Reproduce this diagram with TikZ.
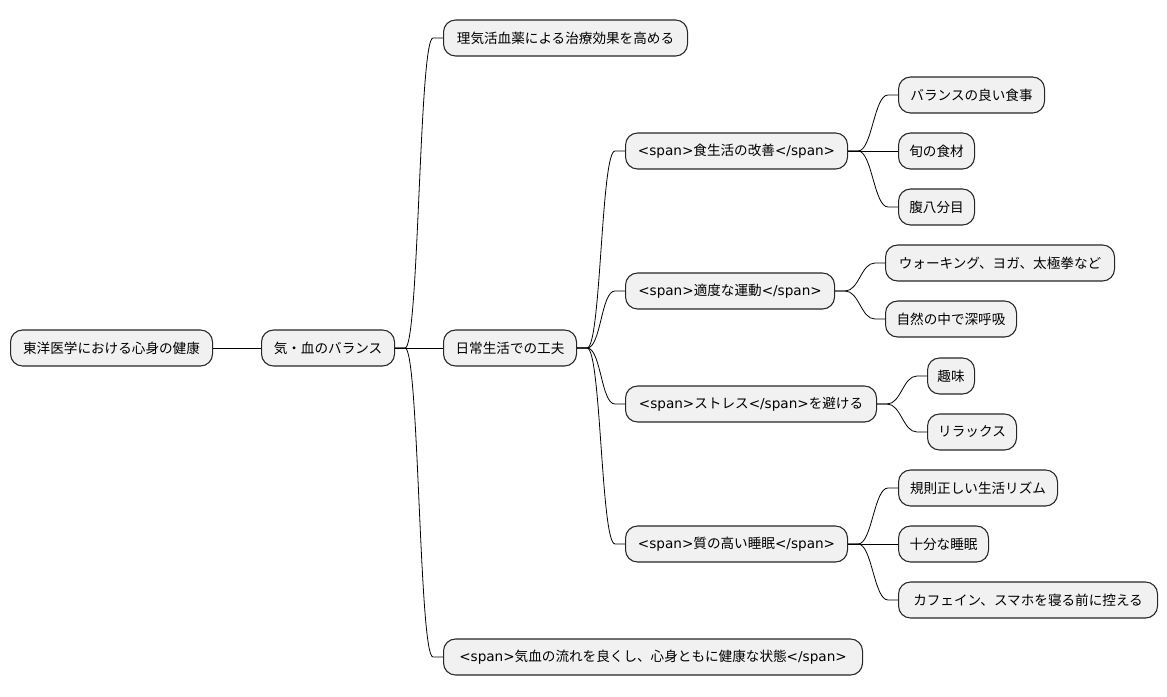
\documentclass[tikz,border=0pt]{standalone}
\usepackage{fontspec}
\setmainfont{Noto Sans CJK JP}
\newfontfamily\lat{DejaVu Sans}
\usetikzlibrary{calc}
\definecolor{boxfill}{HTML}{F1F1F1}
\tikzset{
  mmbox/.style={draw=black!85, line width=0.8pt, fill=boxfill, rounded corners=9pt,
    minimum height=27pt, minimum width=#1*0.75pt, inner xsep=6pt, anchor=west,
    font=\fontsize{10.2pt}{12pt}\selectfont},
  link/.style={draw=black, line width=0.6pt}
}
\newcommand\mmlink[2]{\draw[link] (#1.east) -- ++(10,0) .. controls +(14,0) and +(-14,0) .. ($(#2.west)+(-10,0)$) -- (#2.west);}
\newcommand\spo{{\lat <span>}}
\newcommand\spc{{\lat </span>}}
\begin{document}
\begin{tikzpicture}[x=0.75pt,y=-0.75pt]
\useasboundingbox (0,0) rectangle (1167,696);
\node[mmbox=202] (root) at (10,348) {東洋医学における心身の健康};
\node[mmbox=133] (qi) at (261,348) {気・血のバランス};
\node[mmbox=244] (riki) at (443,38) {理気活血薬による治療効果を高める};
\node[mmbox=133] (daily) at (443,348) {日常生活での工夫};
\node[mmbox=419] (flow) at (443,657) {\spo 気血の流れを良くし、心身ともに健康な状態\spc};
\node[mmbox=222] (food) at (625,151) {\spo 食生活の改善\spc};
\node[mmbox=146] (f1) at (898,95) {バランスの良い食事};
\node[mmbox=76] (f2) at (898,151) {旬の食材};
\node[mmbox=76] (f3) at (898,207) {腹八分目};
\node[mmbox=209] (ex) at (625,291) {\spo 適度な運動\spc};
\node[mmbox=229] (e1) at (885,263) {ウォーキング、ヨガ、太極拳など};
\node[mmbox=131] (e2) at (885,319) {自然の中で深呼吸};
\node[mmbox=251] (st) at (625,404) {\spo ストレス\spc を避ける};
\node[mmbox=47] (s1) at (927,376) {趣味};
\node[mmbox=89] (s2) at (927,432) {リラックス};
\node[mmbox=222] (sl) at (625,544) {\spo 質の高い睡眠\spc};
\node[mmbox=159] (l1) at (898,488) {規則正しい生活リズム};
\node[mmbox=90] (l2) at (898,544) {十分な睡眠};
\node[mmbox=259] (l3) at (898,600) {カフェイン、スマホを寝る前に控える};
\draw[link] (root.east) -- (qi.west);
\mmlink{qi}{riki}
\draw[link] (qi.east) -- (daily.west);
\mmlink{qi}{flow}
\mmlink{daily}{food}
\mmlink{daily}{ex}
\mmlink{daily}{st}
\mmlink{daily}{sl}
\mmlink{food}{f1}
\draw[link] (food.east) -- (f2.west);
\mmlink{food}{f3}
\mmlink{ex}{e1}
\mmlink{ex}{e2}
\mmlink{st}{s1}
\mmlink{st}{s2}
\mmlink{sl}{l1}
\draw[link] (sl.east) -- (l2.west);
\mmlink{sl}{l3}
\end{tikzpicture}
\end{document}
